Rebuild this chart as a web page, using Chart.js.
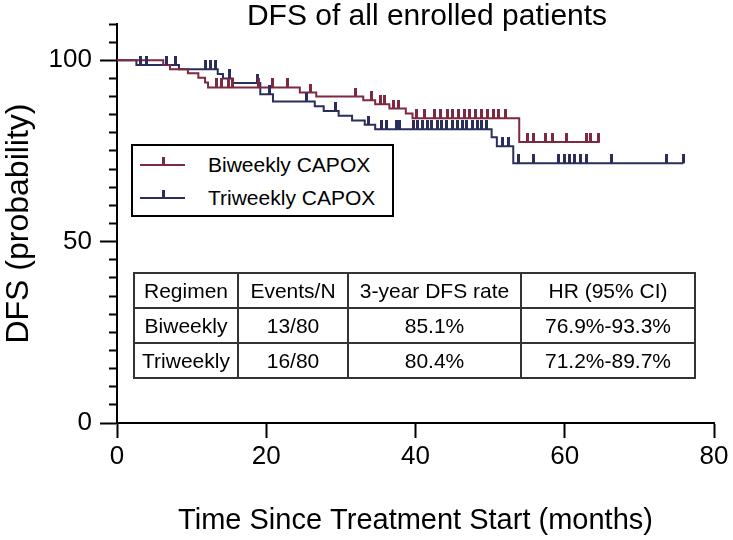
<!DOCTYPE html>
<html>
<head>
<meta charset="utf-8">
<script src="https://cdn.jsdelivr.net/npm/chart.js@4.4.1/dist/chart.umd.min.js"></script>
<style>
  body { margin: 0; background: #fff; }
  #wrap { position: relative; width: 733px; height: 540px; overflow: hidden;
          font-family: "Liberation Sans", Arial, sans-serif; color: #000; }
  #chart { position: absolute; left: 0; top: 0; }
  #title { position: absolute; left: 120px; width: 614px; top: -1px; text-align: center;
           font-size: 30px; line-height: 32px; }
  #legend { position: absolute; left: 131px; top: 144px; width: 263px; height: 73px;
            box-sizing: border-box; border: 2px solid #000; background: #fff; }
  .item { position: absolute; left: 0; height: 0; }
  .swatch { position: absolute; left: 7px; top: -1px; width: 45px; height: 2px; }
  .swatch i { position: absolute; left: 22px; top: -7px; width: 3px; height: 8px; }
  .item span { position: absolute; left: 75px; top: -13px; font-size: 21px; line-height: 26px; white-space: nowrap; }
  #stats { position: absolute; left: 133px; top: 272px; border-collapse: collapse;
           font-size: 21px; }
  #stats td { border: 2px solid #333; text-align: center; padding: 0; height: 33px; white-space: nowrap; }
</style>
</head>
<body>
<div id="wrap">
  <canvas id="chart" width="733" height="540"></canvas>
  <div id="title">DFS of all enrolled patients</div>
  <div id="legend"></div>
  <table id="stats"></table>
</div>
<script>
// Kaplan-Meier steps (months, DFS %)
const seriesNames = ['Biweekly CAPOX', 'Triweekly CAPOX'];
const seriesColors = ['#7d2940', '#2b2d5c'];

const biEventTimes  = [6.2, 7.1, 9.5, 10.9, 11.8, 12.2, 24.5, 26.7, 33.0, 34.6, 36.5, 38.7, 39.6, 53.9];
const biEventLevels = [98.7, 97.5, 96.4, 95.2, 93.9, 92.5, 91.1, 90.0, 89.0, 87.9, 86.7, 85.3, 84.0, 77.5];
const biCensorTimes = [13.4, 14.0, 14.9, 15.5, 18.9, 20.9, 22.9, 25.9, 31.9, 34.1, 35.3, 35.9, 37.0, 37.7,
                       40.2, 41.2, 42.6, 43.4, 44.3, 45.0, 45.8, 46.6, 47.3, 48.0, 48.9, 49.6, 50.4, 51.1, 52.0,
                       55.0, 55.8, 57.4, 58.3, 60.3, 62.9, 63.4, 64.5];
const biLastTime = 64.7;

const triEventTimes  = [2.6, 8.3, 13.5, 14.2, 15.5, 19.2, 20.9, 26.5, 27.7, 29.7, 31.5, 33.2, 34.6, 50.2, 50.9, 53.1];
const triEventLevels = [98.7, 97.5, 96.2, 95.0, 93.7, 90.6, 88.6, 87.3, 86.0, 84.7, 83.4, 82.2, 81.0, 78.8, 76.3, 71.6];
const triCensorTimes = [3.1, 4.0, 6.6, 7.9, 11.8, 12.5, 13.2, 15.1, 18.8, 20.5, 25.4, 29.3, 33.7,
                        35.5, 36.1, 37.5, 37.9, 39.7, 40.3, 40.9, 41.6, 42.2, 42.9, 43.5, 44.2, 44.9, 45.6,
                        46.3, 46.9, 47.6, 48.3, 48.9, 49.5, 51.6, 52.5, 53.8, 55.8, 59.2, 59.9, 60.6, 61.3,
                        62.1, 62.9, 66.2, 73.6, 75.9];
const triLastTime = 75.9;

const xTicks = [0, 20, 40, 60, 80];
const yLabelTicks = [0, 50, 100];

const tableHeader = ['Regimen', 'Events/N', '3-year DFS rate', 'HR (95% CI)'];
const tableRows = [
  ['Biweekly', '13/80', '85.1%', '76.9%-93.3%'],
  ['Triweekly', '16/80', '80.4%', '71.2%-89.7%']
];
const tableColWidths = [102, 108, 171, 172];

// level of a step curve at time t
function levelAt(times, levels, t) {
  let v = 100;
  for (let i = 0; i < times.length; i++) {
    if (times[i] <= t) v = levels[i];
  }
  return v;
}

function stepData(times, levels, last) {
  const pts = [{x: 0, y: 100}];
  times.forEach((t, i) => pts.push({x: t, y: levels[i]}));
  pts.push({x: last, y: levels[levels.length - 1]});
  return pts;
}

function censorData(times, levels, censor) {
  return censor.map(t => ({x: t, y: levelAt(times, levels, t)}));
}

// censor mark: short vertical tick sitting on top of the line
function makeTick(color) {
  const c = document.createElement('canvas');
  c.width = 3; c.height = 18;
  const g = c.getContext('2d');
  g.fillStyle = color;
  g.fillRect(0, 0, 3, 9);
  return c;
}

function lineSet(label, color, data) {
  return {
    type: 'line', label: label, data: data, stepped: 'before',
    borderColor: color, borderWidth: 2, pointRadius: 0, fill: false, order: 2
  };
}

function censorSet(label, color, data) {
  return {
    type: 'scatter', label: label + ' censored', data: data,
    pointStyle: makeTick(color), pointRadius: 4, showLine: false, order: 1
  };
}

const font = '"Liberation Sans", Arial, sans-serif';

new Chart(document.getElementById('chart'), {
  data: {
    datasets: [
      lineSet(seriesNames[0], seriesColors[0], stepData(biEventTimes, biEventLevels, biLastTime)),
      lineSet(seriesNames[1], seriesColors[1], stepData(triEventTimes, triEventLevels, triLastTime)),
      censorSet(seriesNames[0], seriesColors[0], censorData(biEventTimes, biEventLevels, biCensorTimes)),
      censorSet(seriesNames[1], seriesColors[1], censorData(triEventTimes, triEventLevels, triCensorTimes))
    ]
  },
  options: {
    responsive: false,
    animation: false,
    events: [],
    layout: { padding: { top: 24, right: 19, bottom: 0, left: 0 } },
    plugins: { legend: { display: false }, tooltip: { enabled: false } },
    scales: {
      x: {
        type: 'linear', position: 'bottom', min: 0, max: 80,
        afterFit: s => { s.height = 117; },
        afterBuildTicks: s => { s.ticks = xTicks.map(v => ({value: v})); },
        ticks: { autoSkip: false, maxRotation: 0, padding: 3, color: '#000',
                 font: { family: font, size: 26 } },
        grid: { drawOnChartArea: false, tickLength: 15, tickWidth: 2, tickColor: '#000' },
        border: { color: '#000', width: 2 },
        title: { display: true, text: 'Time Since Treatment Start (months)', color: '#000',
                 font: { family: font, size: 29 }, padding: { top: 0, bottom: 2 } }
      },
      y: {
        type: 'linear', position: 'left', min: 0, max: 110,
        afterFit: s => { s.width = 117; },
        ticks: { stepSize: 5, autoSkip: false, padding: 8, color: '#000',
                 font: { family: font, size: 26 },
                 callback: v => (yLabelTicks.includes(v) ? v : '') },
        grid: { drawOnChartArea: false, tickLength: 17, tickWidth: 2, tickColor: '#000',
                tickBorderDash: c => (c.tick && c.tick.value % 50 === 0 ? [] : [0, 9, 8, 100]) },
        border: { color: '#000', width: 2 },
        title: { display: true, text: 'DFS (probability)', color: '#000',
                 font: { family: font, size: 32 }, padding: { top: 0, bottom: 0 } }
      }
    }
  }
});

// legend box
const legend = document.getElementById('legend');
seriesNames.forEach((name, i) => {
  const item = document.createElement('div');
  item.className = 'item';
  item.style.top = (19 + i * 33) + 'px';
  item.innerHTML = '<div class="swatch" style="background:' + seriesColors[i] + '"><i style="background:' +
    seriesColors[i] + '"></i></div><span>' + name + '</span>';
  legend.appendChild(item);
});

// statistics table
const table = document.getElementById('stats');
[tableHeader].concat(tableRows).forEach(row => {
  const tr = document.createElement('tr');
  row.forEach((cell, j) => {
    const td = document.createElement('td');
    td.textContent = cell;
    td.style.width = tableColWidths[j] + 'px';
    tr.appendChild(td);
  });
  table.appendChild(tr);
});
</script>
</body>
</html>
